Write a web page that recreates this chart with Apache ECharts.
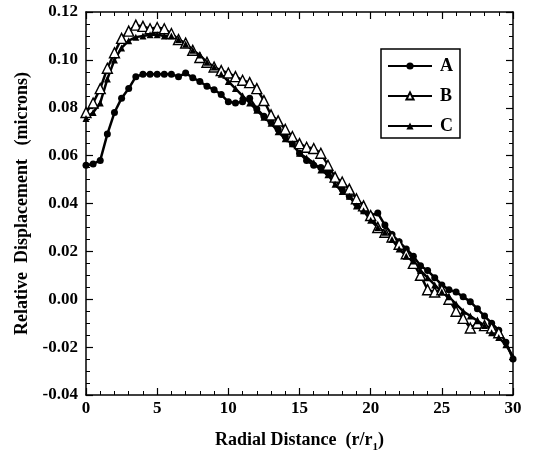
<!DOCTYPE html>
<html>
<head>
<meta charset="utf-8">
<script src="https://cdn.jsdelivr.net/npm/echarts@6/dist/echarts.min.js"></script>
<style>html,body{margin:0;padding:0;background:#fff}#c{width:547px;height:450px}</style>
</head>
<body>
<div id="c"></div>
<script>
const rA = [0,0.5,1,1.5,2,2.5,3,3.5,4,4.5,5,5.5,6,6.5,7,7.5,8,8.5,9,9.5,10,10.5,11,11.5,12,12.5,13,13.5,14,14.5,15,15.5,16,16.5,17,17.5,18,18.5,19,19.5,20,20.5,21,21.5,22,22.5,23,23.5,24,24.5,25,25.5,26,26.5,27,27.5,28,28.5,29,29.5,30];
const seriesA = [0.056,0.0565,0.058,0.069,0.078,0.084,0.088,0.093,0.094,0.094,0.094,0.094,0.094,0.093,0.0945,0.0925,0.091,0.089,0.0875,0.0855,0.0825,0.082,0.0825,0.084,0.0795,0.0765,0.074,0.071,0.068,0.065,0.061,0.058,0.056,0.055,0.053,0.050,0.046,0.043,0.040,0.037,0.035,0.036,0.031,0.027,0.024,0.021,0.018,0.014,0.012,0.009,0.006,0.004,0.003,0.001,-0.001,-0.004,-0.007,-0.010,-0.013,-0.018,-0.025];
const rB = [0,0.5,1,1.5,2,2.5,3,3.5,4,4.5,5,5.5,6,6.5,7,7.5,8,8.5,9,9.5,10,10.5,11,11.5,12,12.5,13,13.5,14,14.5,15,15.5,16,16.5,17,17.5,18,18.5,19,19.5,20,20.5,21,21.5,22,22.5,23,23.5,24,24.5,25,25.5,26,26.5,27,27.5,28,28.5,29];
const seriesB = [0.078,0.082,0.088,0.0965,0.103,0.109,0.112,0.1145,0.114,0.113,0.1135,0.113,0.111,0.1085,0.107,0.104,0.101,0.099,0.097,0.0955,0.0945,0.093,0.0915,0.0905,0.088,0.083,0.077,0.0745,0.071,0.068,0.065,0.0635,0.063,0.061,0.056,0.051,0.049,0.046,0.042,0.039,0.035,0.030,0.028,0.026,0.023,0.019,0.015,0.010,0.004,0.003,0.004,0.000,-0.005,-0.008,-0.012,-0.010,-0.011,-0.012,-0.014];
const rC = [0,0.5,1,1.5,2,2.5,3,3.5,4,4.5,5,5.5,6,6.5,7,7.5,8,8.5,9,9.5,10,10.5,11,11.5,12,12.5,13,13.5,14,14.5,15,15.5,16,16.5,17,17.5,18,18.5,19,19.5,20,20.5,21,21.5,22,22.5,23,23.5,24,24.5,25,25.5,26,26.5,27,27.5,28,28.5,29,29.5,30];
const seriesC = [0.0755,0.078,0.082,0.092,0.100,0.105,0.108,0.1095,0.110,0.1105,0.1105,0.110,0.110,0.1085,0.1065,0.104,0.102,0.099,0.097,0.094,0.091,0.088,0.085,0.082,0.079,0.076,0.0735,0.070,0.067,0.065,0.061,0.059,0.057,0.054,0.052,0.048,0.045,0.043,0.039,0.037,0.033,0.030,0.028,0.025,0.021,0.018,0.016,0.012,0.009,0.006,0.003,0.001,-0.002,-0.005,-0.007,-0.009,-0.011,-0.014,-0.016,-0.019,-0.024];
const seriesNames = ['A','B','C'];
const xTicks = [0,5,10,15,20,25,30];
const yTicks = [-0.04,-0.02,0.00,0.02,0.04,0.06,0.08,0.10,0.12];

const pair = (xs, ys) => xs.map((x, i) => [x, ys[i]]);
const font = 'Liberation Serif';
const tickStyle = {show: true, inside: true, length: 7, lineStyle: {color: '#000', width: 1.2}};
const minorStyle = {show: true, length: 4, lineStyle: {color: '#000', width: 1}};
const lineAxis = {show: true, onZero: false, lineStyle: {color: '#000', width: 1.5}};

const chart = echarts.init(document.getElementById('c'), null, {renderer: 'canvas'});
chart.setOption({
  animation: false,
  backgroundColor: '#fff',
  grid: {left: 86, right: 34, top: 12, bottom: 55, containLabel: false, outerBoundsMode: 'none'},
  legend: {
    orient: 'vertical', left: 381, top: 49,
    itemWidth: 44, itemHeight: 9, itemGap: 12,
    padding: [8, 7, 3, 6],
    borderColor: '#000', borderWidth: 1.5,
    textStyle: {fontFamily: font, fontWeight: 'bold', fontSize: 18, color: '#000', padding: [0,0,0,3]},
    data: seriesNames
  },
  xAxis: [{
    type: 'value', min: xTicks[0], max: xTicks[xTicks.length-1], interval: 5, position: 'bottom',
    axisLine: lineAxis, axisTick: tickStyle, minorTick: Object.assign({splitNumber: 5}, minorStyle),
    splitLine: {show: false},
    axisLabel: {fontFamily: font, fontWeight: 'bold', fontSize: 17, color: '#000', margin: 5},
    name: 'Radial Distance  (r/r{s|1})', nameLocation: 'middle', nameGap: 33,
    nameTextStyle: {fontFamily: font, fontWeight: 'bold', fontSize: 18, color: '#000',
      rich: {s: {fontFamily: font, fontWeight: 'bold', fontSize: 11, verticalAlign: 'bottom', padding: [14,0,0,0]}}}
  }, {
    type: 'value', min: 0, max: 30, interval: 5, position: 'top',
    axisLine: lineAxis, axisTick: tickStyle, minorTick: Object.assign({splitNumber: 5}, minorStyle),
    splitLine: {show: false}, axisLabel: {show: false}
  }],
  yAxis: [{
    type: 'value', min: yTicks[0], max: yTicks[yTicks.length-1], interval: 0.02, position: 'left',
    axisLine: lineAxis, axisTick: tickStyle, minorTick: Object.assign({splitNumber: 4}, minorStyle),
    splitLine: {show: false},
    axisLabel: {fontFamily: font, fontWeight: 'bold', fontSize: 17, color: '#000', margin: 8,
      formatter: v => v.toFixed(2)},
    name: 'Relative  Displacement   (microns)', nameLocation: 'middle', nameGap: 53,
    nameTextStyle: {fontFamily: font, fontWeight: 'bold', fontSize: 18, color: '#000'}
  }, {
    type: 'value', min: -0.04, max: 0.12, interval: 0.02, position: 'right',
    axisLine: lineAxis, axisTick: tickStyle, minorTick: Object.assign({splitNumber: 4}, minorStyle),
    splitLine: {show: false}, axisLabel: {show: false}
  }],
  series: [{
    name: seriesNames[0], type: 'line', data: pair(rA, seriesA),
    symbol: 'circle', symbolSize: 7, showAllSymbol: true,
    lineStyle: {color: '#000', width: 2.5}, itemStyle: {color: '#000'}
  }, {
    name: seriesNames[1], type: 'line', data: pair(rB, seriesB),
    symbol: 'triangle', symbolSize: 10, showAllSymbol: true,
    lineStyle: {color: '#000', width: 2.5}, itemStyle: {color: '#fff', borderColor: '#000', borderWidth: 1.4}
  }, {
    name: seriesNames[2], type: 'line', data: pair(rC, seriesC),
    symbol: 'triangle', symbolSize: 7, showAllSymbol: true,
    lineStyle: {color: '#000', width: 2.5}, itemStyle: {color: '#000'}
  }]
});
</script>
</body>
</html>
